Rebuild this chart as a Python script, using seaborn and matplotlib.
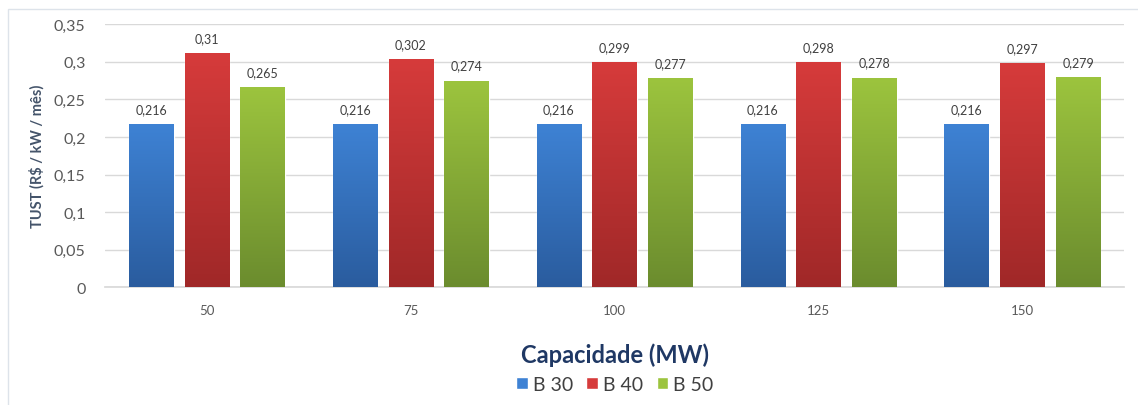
import numpy as np
import pandas as pd
import matplotlib
matplotlib.use("Agg")
import matplotlib.pyplot as plt
import seaborn as sns
from matplotlib.colors import LinearSegmentedColormap

# Dados do gráfico
capacidades = ["50", "75", "100", "125", "150"]
series = ["B 30", "B 40", "B 50"]
b30 = [0.216, 0.216, 0.216, 0.216, 0.216]
b40 = [0.31, 0.302, 0.299, 0.298, 0.297]
b50 = [0.265, 0.274, 0.277, 0.278, 0.279]
rotulos_y = ["0", "0,05", "0,1", "0,15", "0,2", "0,25", "0,3", "0,35"]

# cores: (topo, base) para o degradê
cores = {
    "B 30": ("#3E82D4", "#2A5C9E"),
    "B 40": ("#D63B3B", "#A02828"),
    "B 50": ("#9CC43E", "#6B8C2E"),
}

df = pd.DataFrame({
    "Capacidade": capacidades * 3,
    "Serie": [s for s in series for _ in capacidades],
    "TUST": b30 + b40 + b50,
})

sns.set_theme(style="white")
plt.rcParams['font.family'] = ['Lato', 'DejaVu Sans']

fig = plt.figure(figsize=(11.38, 4.06), dpi=100)
ax = fig.add_axes([0.0923, 0.29, 0.8957, 0.648])

palette = {s: cores[s][0] for s in series}
sns.barplot(data=df, x="Capacidade", y="TUST", hue="Serie", order=capacidades,
            hue_order=series, palette=palette, width=0.82, gap=0.2,
            saturation=1, ax=ax, zorder=2)

ax.set_ylim(0, 0.35)
xlim = ax.get_xlim()

# degradê vertical em cada barra
for cont, s in zip(ax.containers, series):
    cmap = LinearSegmentedColormap.from_list(s, [cores[s][1], cores[s][0]])
    grad = np.linspace(0, 1, 256).reshape(-1, 1)
    for bar in cont:
        x0, w, h = bar.get_x(), bar.get_width(), bar.get_height()
        ax.imshow(grad, cmap=cmap, aspect="auto", origin="lower",
                  extent=(x0, x0 + w, 0, h), zorder=3)
    labels = [f"{v:g}".replace(".", ",") for v in cont.datavalues]
    ax.bar_label(cont, labels=labels, padding=7, fontsize=9, color="#404040")

ax.set_xlim(xlim)
ax.set_ylim(0, 0.35)
ax.set_yticks(np.arange(0, 0.351, 0.05))
ax.set_yticklabels(rotulos_y)
ax.tick_params(axis="y", labelsize=11.5, labelcolor="#595959", length=0, pad=14)
ax.tick_params(axis="x", labelsize=9.5, labelcolor="#595959", length=0, pad=12)
ax.grid(axis="y", color="#D9D9D9", linewidth=1, zorder=0)
ax.set_axisbelow(True)
for sp in ["top", "right", "left"]:
    ax.spines[sp].set_visible(False)
ax.spines["bottom"].set_color("#D9D9D9")

ax.set_ylabel("TUST (R$ / kW / mês)", fontsize=10.5, fontweight="bold",
              color="#44546A", labelpad=7)
ax.set_xlabel("Capacidade (MW)", fontsize=17, fontweight="bold",
              color="#1F3864", labelpad=19)

sns.move_legend(ax, "upper center", bbox_to_anchor=(0.5, -0.27), ncol=3,
                frameon=False, title=None, fontsize=14, handlelength=0.6,
                handleheight=0.6, handletextpad=0.25, columnspacing=0.7)
for t in ax.get_legend().get_texts():
    t.set_color("#404040")

# moldura clara do gráfico
fig.patches.append(plt.Rectangle((0.007, -0.01), 1.0, 0.985, transform=fig.transFigure,
                                 fill=False, edgecolor="#DDE3EA", linewidth=1))

fig.savefig("out.png", dpi=100)
